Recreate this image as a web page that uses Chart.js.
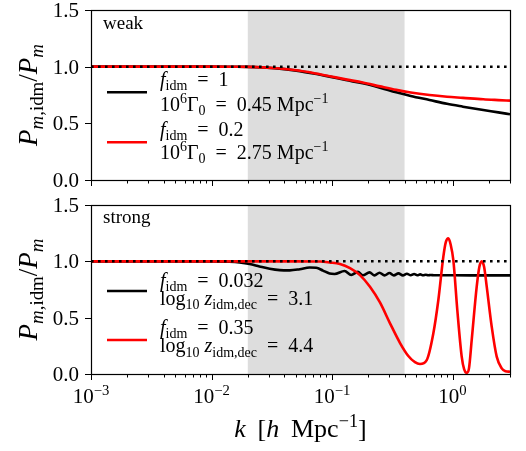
<!DOCTYPE html>
<html><head><meta charset="utf-8">
<script src="https://cdn.jsdelivr.net/npm/chart.js@4.4.1/dist/chart.umd.min.js"></script>
<style>
html,body{margin:0;padding:0;background:#fff;}
#wrap{position:relative;width:526px;height:451px;overflow:hidden;}
canvas{position:absolute;left:0;display:block;}
</style></head><body>
<div id="wrap">
<canvas id="c1" width="526" height="190" style="top:0"></canvas>
<canvas id="c2" width="526" height="261" style="top:190px"></canvas>
</div>
<script>
// ---------- data ----------
const weakBlackK = [0.001, 0.003, 0.01, 0.015, 0.02, 0.0268, 0.035, 0.0506, 0.07, 0.0955, 0.13, 0.18, 0.25, 0.341, 0.45, 0.644, 0.9, 1.22, 1.8, 2.4, 3];
const weakBlackV = [1, 1, 1, 0.999, 0.998, 0.993, 0.985, 0.965, 0.94, 0.912, 0.882, 0.853, 0.815, 0.774, 0.742, 0.706, 0.672, 0.647, 0.617, 0.597, 0.58];
const weakRedK   = [0.001, 0.003, 0.01, 0.015, 0.02, 0.0268, 0.035, 0.0506, 0.07, 0.0955, 0.13, 0.18, 0.25, 0.341, 0.45, 0.644, 0.9, 1.22, 1.8, 2.4, 3];
const weakRedV   = [1, 1, 1, 0.999, 0.998, 0.994, 0.986, 0.968, 0.944, 0.916, 0.888, 0.86, 0.826, 0.795, 0.772, 0.75, 0.735, 0.725, 0.712, 0.705, 0.70];

const strongBlackK = [0.001, 0.005, 0.01, 0.014, 0.0171, 0.0207, 0.025, 0.0304, 0.0368, 0.0446, 0.054, 0.0652, 0.074, 0.0841, 0.0955, 0.105, 0.1271, 0.1444, 0.164, 0.1804, 0.2049, 0.2254, 0.2478, 0.2727, 0.2999, 0.326, 0.356, 0.387, 0.418, 0.45, 0.48, 0.51, 0.54, 0.57, 0.60, 0.63, 0.66, 0.70, 0.8, 1.0, 2.0, 3.0];
const strongBlackV = [1, 1, 0.999, 0.996, 0.99, 0.977, 0.955, 0.934, 0.922, 0.92, 0.93, 0.945, 0.943, 0.918, 0.892, 0.888, 0.914, 0.879, 0.906, 0.876, 0.902, 0.875, 0.899, 0.875, 0.896, 0.875, 0.893, 0.875, 0.89, 0.876, 0.887, 0.876, 0.884, 0.876, 0.881, 0.876, 0.879, 0.876, 0.876, 0.876, 0.875, 0.875];
const strongRedK = [0.001, 0.01, 0.05, 0.08, 0.0955, 0.1164, 0.141, 0.1706, 0.2066, 0.25, 0.303, 0.367, 0.43, 0.488, 0.537, 0.611, 0.693, 0.763, 0.839, 0.88, 0.923, 0.965, 1.016, 1.096, 1.192, 1.25, 1.311, 1.37, 1.443, 1.588, 1.67, 1.747, 1.83, 1.923, 2.115, 2.327, 2.56, 2.75, 3.0];
const strongRedV = [1, 1, 1, 0.998, 0.99, 0.977, 0.94, 0.878, 0.775, 0.635, 0.45, 0.275, 0.16, 0.105, 0.089, 0.124, 0.36, 0.657, 1.04, 1.17, 1.204, 1.15, 1.01, 0.568, 0.154, 0.04, 0.01, 0.05, 0.30, 0.775, 0.95, 1.0, 0.95, 0.775, 0.42, 0.154, 0.05, 0.025, 0.02];

const refLevel = 1.0;
const shadeRange = [0.02, 0.4];
const xRange = [0.001, 3];
const yRange = [0, 1.5];
const xMajorTicks = [0.001, 0.01, 0.1, 1];
const xTickLabels = [['10','−3'], ['10','−2'], ['10','−1'], ['10','0']];
const yTickValues = [0, 0.5, 1.0, 1.5];
const yTickLabels = ['0.0', '0.5', '1.0', '1.5'];
const panelLabels = ['weak', 'strong'];
const EQ = '\u2002=\u2002';
const weakLegend = [
  [['f','i'],['idm','sb'],[EQ + '1','n']],
  [['10','n'],['6','sp'],['Γ','n'],['0','sb'],[EQ + '0.45 Mpc','n'],['−1','sp']],
  [['f','i'],['idm','sb'],[EQ + '0.2','n']],
  [['10','n'],['6','sp'],['Γ','n'],['0','sb'],[EQ + '2.75 Mpc','n'],['−1','sp']]
];
const strongLegend = [
  [['f','i'],['idm','sb'],[EQ + '0.032','n']],
  [['log','n'],['10','sb'],[' ','n'],['z','i'],['idm,dec','sb'],[EQ + '3.1','n']],
  [['f','i'],['idm','sb'],[EQ + '0.35','n']],
  [['log','n'],['10','sb'],[' ','n'],['z','i'],['idm,dec','sb'],[EQ + '4.4','n']]
];
const yTitle = [['P','i'],['m','sbi'],[',idm','sb'],['/','n'],['P','i'],['m','sbi']];
const xTitle = [['k','i'],[' \u2009[','n'],['h','i'],[' \u2009Mpc','n'],['−1','sp'],[']','n']];

// ---------- helpers ----------
const FAM = '"Liberation Serif", "DejaVu Serif", serif';
function fnt(size, it){ return (it ? 'italic ' : '') + size.toFixed(1) + 'px ' + FAM; }
function segStyle(kind, b){
  switch(kind){
    case 'i': return {s:b, it:true, dy:0};
    case 'sb': return {s:b*0.7, it:false, dy:b*0.22};
    case 'sbi': return {s:b*0.7, it:true, dy:b*0.22};
    case 'sp': return {s:b*0.7, it:false, dy:-b*0.38};
    default: return {s:b, it:false, dy:0};
  }
}
function richWidth(ctx, segs, b){
  let w = 0;
  segs.forEach(sg => { const st = segStyle(sg[1], b); ctx.font = fnt(st.s, st.it); w += ctx.measureText(sg[0]).width; });
  return w;
}
function drawRich(ctx, segs, x, y, b, align){
  const w = richWidth(ctx, segs, b);
  let cx = align === 'center' ? x - w/2 : (align === 'right' ? x - w : x);
  ctx.textAlign = 'left'; ctx.textBaseline = 'alphabetic'; ctx.fillStyle = '#000';
  segs.forEach(sg => {
    const st = segStyle(sg[1], b); ctx.font = fnt(st.s, st.it);
    ctx.fillText(sg[0], cx, y + st.dy); cx += ctx.measureText(sg[0]).width;
  });
}
function pts(ks, vs){ return ks.map((k, i) => ({x:k, y:vs[i]})); }

function makePlugin(cfg){
  return {
    id: 'deco' + cfg.idx,
    beforeDatasetsDraw(chart){
      const {ctx, chartArea:a, scales:{x}} = chart;
      const x0 = x.getPixelForValue(shadeRange[0]), x1 = x.getPixelForValue(shadeRange[1]);
      ctx.save(); ctx.fillStyle = '#dddddd';
      ctx.fillRect(x0, a.top, x1 - x0, a.bottom - a.top);
      ctx.restore();
    },
    afterDraw(chart){
      const {ctx, chartArea:a, scales:{x, y}} = chart;
      ctx.save();
      // frame
      ctx.strokeStyle = '#000'; ctx.lineWidth = 1.2;
      ctx.strokeRect(Math.round(a.left)+0.5, Math.round(a.top)+0.5, Math.round(a.right - a.left), Math.round(a.bottom - a.top));
      // x ticks
      ctx.lineWidth = 1;
      ctx.beginPath();
      for (let e = -3; e <= 0; e++){
        for (let m = 1; m <= 9; m++){
          const v = m * Math.pow(10, e);
          if (v > xRange[1] * 1.0001) continue;
          const px = Math.round(x.getPixelForValue(v)) + 0.5;
          const len = m === 1 ? 6 : 3.5;
          ctx.moveTo(px, a.bottom); ctx.lineTo(px, a.bottom + len);
        }
      }
      // y ticks
      yTickValues.forEach(v => {
        const py = Math.round(y.getPixelForValue(v)) + 0.5;
        ctx.moveTo(a.left - 6, py); ctx.lineTo(a.left, py);
      });
      ctx.stroke();
      // y tick labels
      ctx.fillStyle = '#000'; ctx.font = fnt(21, false); ctx.textAlign = 'right'; ctx.textBaseline = 'alphabetic';
      yTickValues.forEach((v, i) => {
        ctx.fillText(yTickLabels[i], a.left - 12, y.getPixelForValue(v) + 7);
      });
      // x tick labels
      if (cfg.xLabels){
        xMajorTicks.forEach((v, i) => {
          const lab = xTickLabels[i];
          drawRich(ctx, [[lab[0],'n'],[lab[1],'sp']], x.getPixelForValue(v), a.bottom + 29, 21, 'center');
        });
        drawRich(ctx, xTitle, (a.left + a.right)/2, a.bottom + 63, 26, 'center');
      }
      // y title
      ctx.save();
      ctx.translate(37, (a.top + a.bottom)/2);
      ctx.rotate(-Math.PI/2);
      drawRich(ctx, yTitle, 0, 0, 27, 'center');
      ctx.restore();
      // panel label
      ctx.fillStyle = '#000'; ctx.font = fnt(19, false); ctx.textAlign = 'left';
      ctx.fillText(cfg.label, a.left + 12, a.top + cfg.labelDy);
      // legend
      const L = cfg.legend;
      ctx.lineWidth = 2.6; ctx.lineCap = 'butt';
      [['#000000', L.sy[0]], ['#ff0000', L.sy[1]]].forEach(([c, yy]) => {
        ctx.strokeStyle = c; ctx.beginPath(); ctx.moveTo(a.left + 16, a.top + yy); ctx.lineTo(a.left + 56, a.top + yy); ctx.stroke();
      });
      L.lines.forEach((segs, i) => drawRich(ctx, segs, a.left + 69, a.top + L.by[i], 20, 'left'));
      ctx.restore();
    }
  };
}

function makeChart(id, padTop, xHeight, blk, red, cfg){
  return new Chart(document.getElementById(id), {
    type: 'line',
    data: { datasets: [
      { data: pts(xRange, [refLevel, refLevel]), borderColor:'#000', borderWidth:2.5, borderDash:[2.6,4.4], pointRadius:0, tension:0 },
      { data: red, borderColor:'#ff0000', borderWidth:2.6, pointRadius:0, cubicInterpolationMode:'monotone' },
      { data: blk, borderColor:'#000000', borderWidth:2.6, pointRadius:0, cubicInterpolationMode:'monotone' }
    ]},
    options: {
      responsive:false, animation:false, events:[],
      layout: { padding: { left:0, right:16, top:padTop, bottom:0 } },
      plugins: { legend:{display:false}, tooltip:{enabled:false} },
      scales: {
        x: { type:'logarithmic', min:xRange[0], max:xRange[1],
             ticks:{display:false}, grid:{display:false, drawTicks:false}, border:{display:false},
             afterFit(s){ s.height = xHeight; } },
        y: { type:'linear', min:yRange[0], max:yRange[1],
             ticks:{display:false}, grid:{display:false, drawTicks:false}, border:{display:false},
             afterFit(s){ s.width = 91; } }
      }
    },
    plugins: [makePlugin(cfg)]
  });
}

makeChart('c1', 10, 10, pts(weakBlackK, weakBlackV), pts(weakRedK, weakRedV), {
  idx:1, xLabels:false, label:panelLabels[0], labelDy:19,
  legend:{ sy:[82.3, 132.3], by:[76, 100.5, 126, 148.5], lines:weakLegend }
});
makeChart('c2', 15, 77, pts(strongBlackK, strongBlackV), pts(strongRedK, strongRedV), {
  idx:2, xLabels:true, label:panelLabels[1], labelDy:18.3,
  legend:{ sy:[86, 135], by:[81.7, 100, 129, 147.3], lines:strongLegend }
});
</script>
</body></html>
